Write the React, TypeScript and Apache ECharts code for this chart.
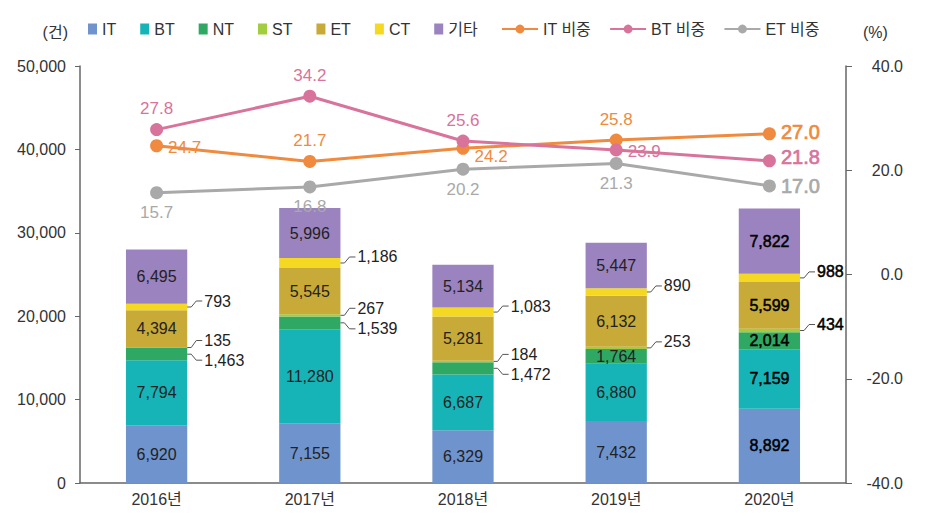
import React, { useEffect, useRef } from "react";
import * as echarts from "echarts";

const YEARS = ["2016년", "2017년", "2018년", "2019년", "2020년"];
const IT = [6920, 7155, 6329, 7432, 8892];
const BT = [7794, 11280, 6687, 6880, 7159];
const NT = [1463, 1539, 1472, 1764, 2014];
const ST = [135, 267, 184, 253, 434];
const ET = [4394, 5545, 5281, 6132, 5599];
const CT = [793, 1186, 1083, 890, 988];
const OTHER = [6495, 5996, 5134, 5447, 7822];
const IT_SHARE = [24.7, 21.7, 24.2, 25.8, 27.0];
const BT_SHARE = [27.8, 34.2, 25.6, 23.9, 21.8];
const ET_SHARE = [15.7, 16.8, 20.2, 21.3, 17.0];

const LEFT_MIN = 0, LEFT_MAX = 50000, LEFT_STEP = 10000;
const RIGHT_MIN = -40, RIGHT_MAX = 40, RIGHT_STEP = 20;

// label placement config (style, not data)
const NT_OUTSIDE = [true, true, true, false, false];
const IT_POS = ["right", "top", "right", "top", "right"];
const BT_POS = ["top", "top", "top", "right", "right"];
const ET_POS = ["bottom", "bottom", "bottom", "bottom", "right"];
const IT_OFF = [[0, 2], [0, 0], [0, 8], [0, 0], [0, -2]];
const BT_OFF = [[0, 0], [0, 0], [0, 0], [0, 2], [0, -4]];
const ET_OFF = [[0, 0], [0, 0], [0, 0], [0, 0], [0, 0]];

const FONT = "'Liberation Sans', 'Noto Sans CJK KR', sans-serif";
const C = {
  IT: "#6f94cd",
  BT: "#16b4b7",
  NT: "#2fa863",
  ST: "#a2cd3e",
  ET: "#c8aa38",
  CT: "#f5d822",
  OTHER: "#9b83bf",
  ITL: "#ef8a3e",
  BTL: "#d8739c",
  ETL: "#a9a9a9",
};

const fmt = (v: number) => v.toLocaleString("en-US");

export default function App() {
  const ref = useRef<HTMLDivElement>(null);
  useEffect(() => {
    if (!ref.current) return;
    const chart = echarts.init(ref.current, undefined, { renderer: "svg" });

    const barSeries = (name: string, data: number[], color: string, showInside: boolean[]) => ({
      name,
      type: "bar",
      stack: "total",
      barWidth: "40%",
      itemStyle: { color },
      data: data.map((v, i) => ({
        value: v,
        label: {
          show: showInside[i],
          color: i === 4 ? "#000" : "#222",
          textBorderColor: i === 4 ? "#000" : "transparent",
          textBorderWidth: i === 4 ? 0.5 : 0,
        },
      })),
      label: {
        show: true,
        position: "inside",
        fontSize: 16,
        fontFamily: FONT,
        color: "#222",
        formatter: (p: any) => fmt(p.value),
      },
    });

    const allTrue = [true, true, true, true, true];
    const allFalse = [false, false, false, false, false];

    // external labels with leader lines
    const extRows: number[][] = [];
    for (let i = 0; i < YEARS.length; i++) {
      const b1 = IT[i] + BT[i];
      const b2 = b1 + NT[i];
      const b3 = b2 + ST[i];
      const b4 = b3 + ET[i];
      const b5 = b4 + CT[i];
      if (NT_OUTSIDE[i]) extRows.push([i, b1, b2, NT[i], 6]);
      extRows.push([i, b2, b3, ST[i], NT_OUTSIDE[i] ? -7 : -6]);
      extRows.push([i, b4, b5, CT[i], -6]);
    }

    const lineSeries = (
      name: string,
      data: number[],
      color: string,
      pos: string[],
      off: number[][]
    ) => ({
      name,
      type: "line",
      yAxisIndex: 1,
      symbol: "circle",
      symbolSize: 13,
      lineStyle: { color, width: 3 },
      itemStyle: { color },
      z: 5,
      data: data.map((v, i) => ({
        value: v,
        label: {
          position: pos[i],
          offset: off[i],
          distance: pos[i] === "right" ? 5 : pos[i] === "top" ? 6 : 5,
          fontSize: i === 4 ? 20 : 17,
          textBorderColor: i === 4 ? color : "transparent",
          textBorderWidth: i === 4 ? 0.7 : 0,
        },
      })),
      label: {
        show: true,
        color,
        fontFamily: FONT,
        formatter: (p: any) => Number(p.value).toFixed(1),
      },
    });

    chart.setOption({
      animation: false,
      textStyle: { fontFamily: FONT },
      grid: { left: 80, right: 102, top: 66, bottom: 38, outerBoundsMode: "none" } as any,
      legend: [
        {
          data: ["IT", "BT", "NT", "ST", "ET", "CT", "기타"],
          left: 88,
          top: 21,
          icon: "rect",
          itemWidth: 9,
          itemHeight: 11,
          itemGap: 24,
          padding: 0,
          textStyle: { fontSize: 16, color: "#333", fontFamily: FONT },
        },
        {
          data: ["IT 비중", "BT 비중", "ET 비중"],
          left: 501,
          top: 21,
          itemWidth: 36,
          itemHeight: 11,
          itemGap: 18,
          padding: 0,
          textStyle: { fontSize: 16, color: "#333", fontFamily: FONT },
        },
      ],
      xAxis: {
        type: "category",
        data: YEARS,
        axisLine: { lineStyle: { color: "#666", width: 1.5 } },
        axisTick: { show: false },
        axisLabel: { fontSize: 16, color: "#333", margin: 8, fontFamily: FONT },
      },
      yAxis: [
        {
          type: "value",
          min: LEFT_MIN,
          max: LEFT_MAX,
          interval: LEFT_STEP,
          name: "(건)",
          nameLocation: "end",
          nameGap: 26,
          nameTextStyle: { fontSize: 16, color: "#333", align: "right", padding: [0, 12, 0, 0], fontFamily: FONT },
          axisLine: { show: true, lineStyle: { color: "#666", width: 1.5 } },
          axisTick: { show: true, length: 5, lineStyle: { color: "#666" } },
          splitLine: { show: false },
          axisLabel: { fontSize: 16, color: "#333", margin: 14, formatter: (v: number) => fmt(v), fontFamily: FONT },
        },
        {
          type: "value",
          min: RIGHT_MIN,
          max: RIGHT_MAX,
          interval: RIGHT_STEP,
          position: "right",
          name: "(%)",
          nameLocation: "end",
          nameGap: 26,
          nameTextStyle: { fontSize: 16, color: "#333", align: "left", padding: [0, 0, 0, 17], fontFamily: FONT },
          axisLine: { show: true, lineStyle: { color: "#666", width: 1.5 } },
          axisTick: { show: true, length: 6, lineStyle: { color: "#666" } },
          splitLine: { show: false },
          axisLabel: {
            fontSize: 16,
            color: "#333",
            align: "right",
            margin: 57,
            formatter: (v: number) => v.toFixed(1),
            fontFamily: FONT,
          },
        },
      ],
      series: [
        barSeries("IT", IT, C.IT, allTrue),
        barSeries("BT", BT, C.BT, allTrue),
        barSeries("NT", NT, C.NT, NT_OUTSIDE.map((o) => !o)),
        barSeries("ST", ST, C.ST, allFalse),
        barSeries("ET", ET, C.ET, allTrue),
        barSeries("CT", CT, C.CT, allFalse),
        barSeries("기타", OTHER, C.OTHER, allTrue),
        {
          name: "ext",
          type: "custom",
          coordinateSystem: "cartesian2d",
          encode: { x: 0, y: 2 },
          z: 4,
          silent: true,
          data: extRows,
          renderItem: (params: any, api: any) => {
            const i = api.value(0);
            const lo = api.value(1);
            const hi = api.value(2);
            const val = api.value(3);
            const dy = api.value(4);
            const [cx, cy] = api.coord([i, (lo + hi) / 2]);
            const bw = api.size([1, 0])[0] * 0.4;
            const x0 = cx + bw / 2;
            const ty = cy + dy;
            const strong = i === 4;
            return {
              type: "group",
              children: [
                {
                  type: "polyline",
                  shape: { points: [[x0, cy], [x0 + 4, cy], [x0 + 9, ty], [x0 + 15, ty]] },
                  style: { stroke: "#555", lineWidth: 1, fill: "none" },
                },
                {
                  type: "text",
                  x: x0 + 17,
                  y: ty,
                  style: {
                    text: fmt(val),
                    fontSize: 16,
                    fontFamily: FONT,
                    fill: strong ? "#000" : "#222",
                    stroke: strong ? "#000" : "transparent",
                    lineWidth: strong ? 0.5 : 0,
                    verticalAlign: "middle",
                    align: "left",
                  },
                },
              ],
            };
          },
        },
        lineSeries("IT 비중", IT_SHARE, C.ITL, IT_POS, IT_OFF),
        lineSeries("BT 비중", BT_SHARE, C.BTL, BT_POS, BT_OFF),
        lineSeries("ET 비중", ET_SHARE, C.ETL, ET_POS, ET_OFF),
      ],
    });
    return () => chart.dispose();
  }, []);
  return <div ref={ref} style={{ width: 948, height: 521, position: "absolute", left: 0, top: 0, background: "#fff" }} />;
}
